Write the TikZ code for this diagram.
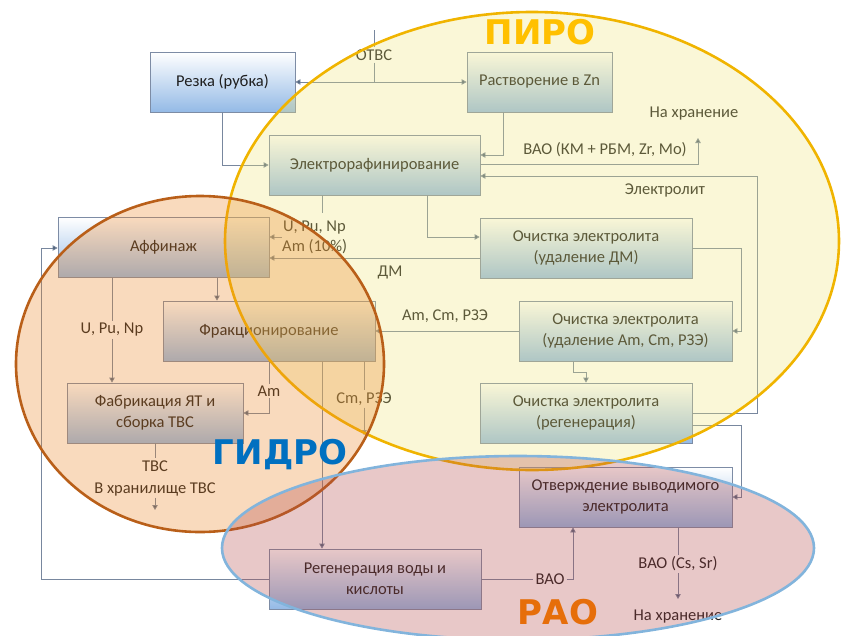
\documentclass[tikz,border=0pt]{standalone}
\usepackage{fontspec}
\setmainfont{Carlito}
\newfontfamily\bigfont{DejaVu Sans}
\usetikzlibrary{arrows.meta}
\definecolor{boxblue}{RGB}{148,186,230}
\definecolor{boxline}{RGB}{125,140,165}
\definecolor{lncol}{RGB}{120,135,158}
\definecolor{tipcol}{RGB}{75,95,120}
\definecolor{txtcol}{RGB}{30,30,30}
\definecolor{pyrofill}{RGB}{238,228,122}
\definecolor{pyroline}{RGB}{240,180,0}
\definecolor{hydrofill}{RGB}{235,132,38}
\definecolor{hydroline}{RGB}{185,95,25}
\definecolor{raofill}{RGB}{178,72,72}
\definecolor{raoline}{RGB}{130,180,220}
\definecolor{pyrotxt}{RGB}{255,192,0}
\definecolor{hydrotxt}{RGB}{0,112,192}
\definecolor{raotxt}{RGB}{230,110,10}
\tikzset{
  box/.style={draw=boxline, line width=0.8pt, top color=white, bottom color=boxblue,
    minimum height=60pt, inner sep=0pt, align=center, text=txtcol,
    font=\fontsize{16.5}{21}\selectfont},
  lbl/.style={text=txtcol, font=\fontsize{16.5}{21}\selectfont, inner sep=2pt, align=center},
  conn/.style={draw=lncol, line width=0.8pt},
  arr/.style={conn, -{Triangle[width=5.5pt,length=5pt,fill=tipcol]}},
  zone/.style={line width=2.6pt, fill opacity=0.3},
  zonetxt/.style={font=\bigfont\bfseries\fontsize{34}{34}\selectfont}
}
\begin{document}
\begin{tikzpicture}[x=1pt,y=-1pt]
\useasboundingbox (0,0) rectangle (841,635);
\clip (0,0) rectangle (841,635);
% boxes
\node[box, minimum width=145pt] (rez) at (222.5,82) {Резка (рубка)};
\node[box, minimum width=145pt] (rast) at (539.5,82) {Растворение в Zn};
\node[box, minimum width=211pt] (elr) at (374.5,165) {Электрорафинирование};
\node[box, minimum width=211pt] (aff) at (163.5,247.5) {Аффинаж};
\node[box, minimum width=212pt] (ochdm) at (586,248) {Очистка электролита\\(удаление ДМ)};
\node[box, minimum width=212pt] (frak) at (269,331) {Фракционирование};
\node[box, minimum width=213pt] (ocham) at (625.5,331) {Очистка электролита\\(удаление Am, Cm, РЗЭ)};
\node[box, minimum width=176pt] (fab) at (155,413) {Фабрикация ЯТ и\\сборка ТВС};
\node[box, minimum width=212pt] (ochreg) at (586,413) {Очистка электролита\\(регенерация)};
\node[box, minimum width=213pt] (otv) at (625.5,497) {Отверждение выводимого\\электролита};
\node[box, minimum width=212pt] (regv) at (375,579) {Регенерация воды и\\кислоты};
% labels
\node[lbl] (otvl) at (374,55) {ОТВС};
\node[lbl] (vao1) at (605,150) {ВАО (КМ + РБМ, Zr, Mo)};
\node[lbl] (nah1) at (694,114) {На хранение};
\node[lbl] (elit) at (665,190) {Электролит};
\node[lbl, anchor=west] (upn1) at (281,228) {U, Pu, Np};
\node[lbl, anchor=west] (am10) at (280,247) {Am (10\%)};
\node[lbl] (dm) at (390,272) {ДМ};
\node[lbl] (upn2) at (112,330) {U, Pu, Np};
\node[lbl] (amcm) at (445,316) {Am, Cm, РЗЭ};
\node[lbl] (aml) at (269,391) {Am};
\node[lbl] (cml) at (364,399) {Cm, РЗЭ};
\node[lbl] (tvs) at (155,466) {ТВС};
\node[lbl] (vhr) at (155,489) {В хранилище ТВС};
\node[lbl] (vao2) at (550,579) {ВАО};
\node[lbl] (vcs) at (678,564) {ВАО (Cs, Sr)};
\node[lbl] (nah2) at (678,617) {На хранение};
% free ends
\coordinate (otvtop) at (374,30);
\coordinate (otvj) at (374,82);
\coordinate (nahtip) at (698,138);
\coordinate (stub) at (322,213);
\coordinate (upnstart) at (282,237);
\coordinate (cmtip) at (364,435);
\coordinate (tvstip) at (155,510);
\coordinate (vcstip) at (678,599);
% connectors
\draw[conn] (otvtop) -- (otvl.north);
\draw[conn] (otvl.south) -- (otvj);
\draw[arr] (otvj) -- (rez.east);
\draw[arr] (otvj) -- (rast.west);
\draw[arr] (rez.south) |- (elr.west);
\draw[arr] (rast.south -| 503,0) |- (elr.east |- 0,155);
\draw[arr] (elr.east |- 0,164) -| (nahtip);
\draw[arr] (ochreg.east) -| (757,176) -- (elr.east |- 0,176);
\draw[arr] (elr.south -| 427,0) |- (ochdm.west |- 0,237);
\draw[conn] (elr.south -| stub) -- (stub);
\draw[arr] (upnstart) -- (aff.east |- upnstart);
\draw[arr] (ochdm.west |- 0,258) -- (aff.east |- 0,258);
\draw[conn] (aff.south -| upn2) -- (upn2.north);
\draw[arr] (upn2.south) -- (fab.north -| upn2);
\draw[arr] (aff.south -| 217,0) -- (frak.north -| 217,0);
\draw[arr] (ocham.west) -- (frak.east);
\draw[arr] (ochdm.east) -| (741,331) -- (ocham.east);
\draw[arr] (ocham.south -| 573,0) -- (573,372) -| (ochreg.north -| 586,0);
\draw[conn] (frak.south -| aml) -- (aml.north);
\draw[arr] (aml.south) |- (fab.east);
\draw[arr] (frak.south -| 322,0) -- (regv.north -| 322,0);
\draw[conn] (frak.south -| cml) -- (cml.north);
\draw[arr] (cml.south) -- (cmtip);
\draw[conn] (fab.south -| tvs) -- (tvs.north);
\draw[arr] (vhr.south) -- (tvstip);
\draw[arr] (regv.west) -| (41,248) -- (aff.west |- 0,248);
\draw[conn] (regv.east) -- (vao2.west);
\draw[arr] (vao2.east) -| (otv.south -| 573,0);
\draw[arr] (ochreg.east |- 0,425) -| (741,497) -- (otv.east);
\draw[conn] (otv.south -| vcs) -- (vcs.north);
\draw[arr] (vcs.south) -- (vcstip);
% zones
\draw[zone, fill=pyrofill, draw=pyroline] (532,241) ellipse [x radius=307, y radius=229];
\draw[zone, fill=hydrofill, draw=hydroline] (200,364) ellipse [x radius=184, y radius=168];
\draw[zone, fill=raofill, draw=raoline] (518,548) ellipse [x radius=296, y radius=92];
\node[zonetxt, text=pyrotxt] (piro) at (540,32) {ПИРО};
\node[zonetxt, text=hydrotxt] (gidro) at (280,455) {ГИДРО};
\node[zonetxt, text=raotxt] (rao) at (558,612) {РАО};
\end{tikzpicture}
\end{document}
